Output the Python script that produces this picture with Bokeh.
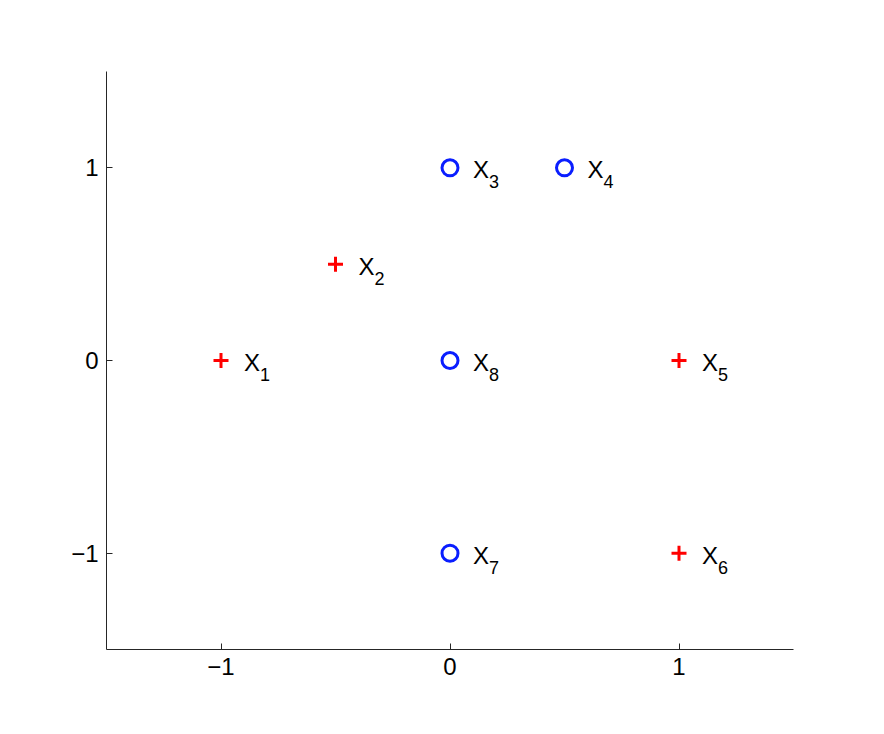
from bokeh.plotting import figure
from bokeh.models import ColumnDataSource, Range1d
from bokeh.embed import file_html
from bokeh.resources import INLINE
from bokeh.core.properties import value

# data
plus_x = [-1, -0.5, 1, 1]
plus_y = [0, 0.5, 0, -1]
plus_idx = ["1", "2", "5", "6"]
circ_x = [0, 0.5, 0, 0]
circ_y = [1, 1, -1, 0]
circ_idx = ["3", "4", "7", "8"]
ticks = [-1, 0, 1]

FONT = "Liberation Sans"

p = figure(width=868, height=718, output_backend="svg", toolbar_location=None,
           x_range=Range1d(-1.5, 1.5), y_range=Range1d(-1.5, 1.5))
p.min_border_left = 106
p.min_border_right = 75
p.min_border_top = 71
p.min_border_bottom = 69
p.outline_line_color = None
p.grid.visible = False
p.background_fill_color = "white"
p.border_fill_color = "white"

for ax in (p.xaxis[0], p.yaxis[0]):
    ax.ticker = ticks
    ax.major_label_overrides = {-1: "\u22121", 0: "0", 1: "1"}
    ax.major_tick_in = 6
    ax.major_tick_out = 0
    ax.minor_tick_line_color = None
    ax.axis_line_color = "#262626"
    ax.major_tick_line_color = "#262626"
    ax.major_label_text_font = FONT
    ax.major_label_text_font_size = "24px"
    ax.major_label_text_color = "black"
    ax.major_label_standoff = 8

src_p = ColumnDataSource(dict(x=plus_x, y=plus_y, idx=plus_idx, lab=["X"] * len(plus_x)))
src_c = ColumnDataSource(dict(x=circ_x, y=circ_y, idx=circ_idx, lab=["X"] * len(circ_x)))

p.scatter("x", "y", source=src_p, marker="cross", size=15, line_width=3, line_color="#ff0000")
p.scatter("x", "y", source=src_c, marker="circle", size=16, line_width=3, line_color="#0a1eff",
          fill_color=None)

for src in (src_p, src_c):
    p.text("x", "y", text="lab", source=src, x_offset=23, y_offset=2,
           text_font=value(FONT), text_font_size="24px", text_color="black",
           text_baseline="alphabetic", text_align="left")
    p.text("x", "y", text="idx", source=src, x_offset=39, y_offset=14,
           text_font=value(FONT), text_font_size="18px", text_color="black",
           text_baseline="alphabetic", text_align="left")

open("out.html", "w").write(file_html(p, INLINE))
